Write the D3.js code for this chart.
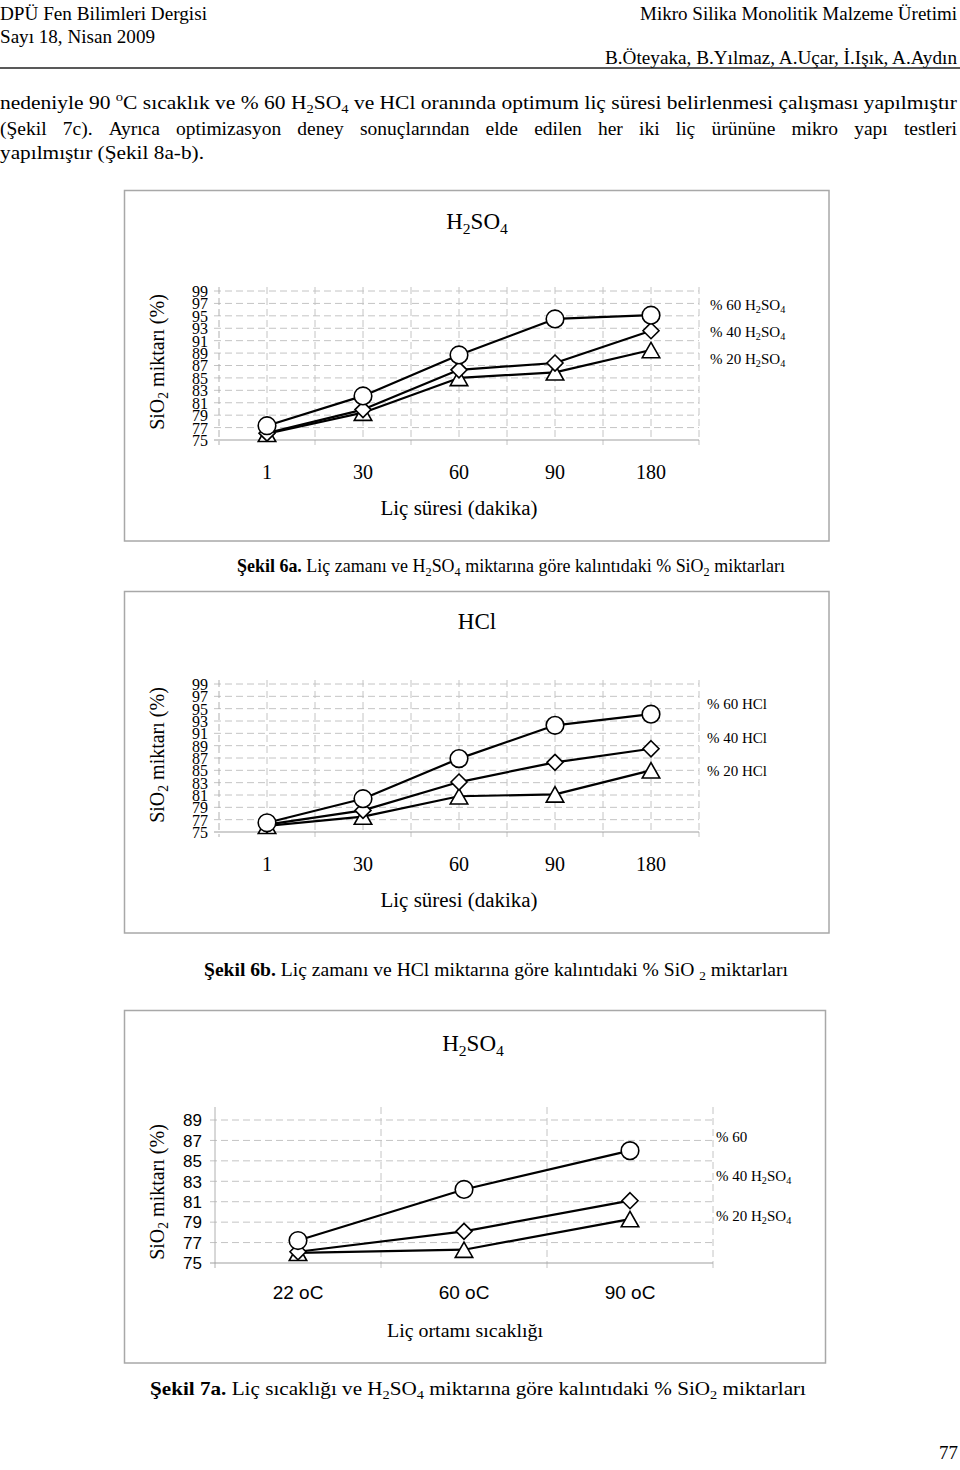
<!DOCTYPE html>
<html><head><meta charset="utf-8">
<script src="https://cdn.jsdelivr.net/npm/d3@7"></script>
<style>body{margin:0;background:#fff} svg{display:block}</style>
</head><body>
<script>
// ---------- data ----------
const timeCategories = ["1", "30", "60", "90", "180"];
const h2so4_60 = [77.3, 82.1, 88.7, 94.5, 95.1];
const h2so4_40 = [76.1, 79.9, 86.3, 87.4, 92.6];
const h2so4_20 = [76.0, 79.4, 85.0, 85.9, 89.5];
const hcl_60 = [76.5, 80.4, 86.9, 92.3, 94.1];
const hcl_40 = [76.2, 78.5, 83.1, 86.3, 88.5];
const hcl_20 = [76.0, 77.5, 80.8, 81.1, 85.0];
const tempCategories = ["22 oC", "60 oC", "90 oC"];
const temp_60 = [77.2, 82.2, 86.0];
const temp_40 = [76.1, 78.1, 81.1];
const temp_20 = [76.0, 76.3, 79.3];
const yTicksTime = [99, 97, 95, 93, 91, 89, 87, 85, 83, 81, 79, 77, 75];
const yTicksTemp = [89, 87, 85, 83, 81, 79, 77, 75];

// ---------- setup ----------
const W = 960, H = 1470;
const SERIF = "'Liberation Serif','Times New Roman',serif";
const SANS = "'Liberation Sans',Arial,sans-serif";
const svg = d3.select("body").append("svg").attr("width", W).attr("height", H);
svg.append("rect").attr("width", W).attr("height", H).attr("fill", "#fff");

function rich(parent, x, y, size, parts, o = {}) {
  const t = parent.append("text").attr("x", x).attr("y", y)
    .attr("font-family", o.family || SERIF).attr("font-size", size).attr("fill", "#000");
  if (o.anchor) t.attr("text-anchor", o.anchor);
  let shift = 0;
  parts.forEach(p => {
    let txt, fs = size, target = 0, weight = null;
    if (typeof p === "string") txt = p;
    else if (p.sub !== undefined) { txt = p.sub; fs = size * 0.68; target = size * 0.22; }
    else if (p.sup !== undefined) { txt = p.sup; fs = size * 0.68; target = -size * 0.4; }
    else if (p.b !== undefined) { txt = p.b; weight = "bold"; }
    const ts = t.append("tspan").text(txt).attr("font-size", fs);
    if (target - shift !== 0) ts.attr("dy", target - shift);
    shift = target;
    if (weight) ts.attr("font-weight", weight);
  });
  if (o.len) t.attr("textLength", o.len).attr("lengthAdjust", o.adjust || "spacingAndGlyphs");
  if (o.rotate) t.attr("transform", `rotate(${o.rotate},${x},${y})`);
  return t;
}

function justify(parent, x0, x1, y, size, str) {
  const words = str.split(" ");
  const nodes = words.map(w => parent.append("text").attr("y", y)
    .attr("font-family", SERIF).attr("font-size", size).attr("fill", "#000").text(w));
  const widths = nodes.map(n => n.node().getComputedTextLength());
  const gap = (x1 - x0 - d3.sum(widths)) / (words.length - 1);
  let x = x0;
  nodes.forEach((n, i) => { n.attr("x", x); x += widths[i] + gap; });
}

// ---------- page header & body text ----------
rich(svg, 0, 20, 18, ["DPÜ Fen Bilimleri Dergisi"], { len: 207 });
rich(svg, 0, 43, 18, ["Sayı 18, Nisan 2009"], { len: 155 });
rich(svg, 957, 20, 18, ["Mikro Silika Monolitik Malzeme Üretimi"], { anchor: "end", len: 317 });
rich(svg, 957, 64, 18, ["B.Öteyaka, B.Yılmaz, A.Uçar, İ.Işık, A.Aydın"], { anchor: "end", len: 352 });
svg.append("line").attr("x1", 0).attr("x2", 960).attr("y1", 68).attr("y2", 68)
  .attr("stroke", "#222").attr("stroke-width", 1.5);

rich(svg, 0, 109, 19.5, ["nedeniyle 90 ", { sup: "o" }, "C sıcaklık ve % 60  H", { sub: "2" }, "SO", { sub: "4" },
  " ve HCl oranında optimum liç süresi belirlenmesi çalışması yapılmıştır"], { len: 957 });
justify(svg, 0, 957, 135, 19.5, "(Şekil 7c). Ayrıca optimizasyon deney sonuçlarından elde edilen her iki liç ürününe mikro yapı testleri");
rich(svg, 0, 159, 19.5, ["yapılmıştır (Şekil 8a-b)."], { len: 204 });

// ---------- marker symbols ----------
const symDiamond = { draw(ctx, size) { const r = Math.sqrt(size) / 2; ctx.moveTo(0, -r); ctx.lineTo(r, 0); ctx.lineTo(0, r); ctx.lineTo(-r, 0); ctx.closePath(); } };
const symTriangle = { draw(ctx, size) { const w = Math.sqrt(size); const h = w * 0.88; ctx.moveTo(0, -h / 2); ctx.lineTo(w / 2, h / 2); ctx.lineTo(-w / 2, h / 2); ctx.closePath(); } };

// ---------- chart builder ----------
function chart(c) {
  const g = svg.append("g");
  g.append("rect").attr("x", c.box[0]).attr("y", c.box[1])
    .attr("width", c.box[2] - c.box[0]).attr("height", c.box[3] - c.box[1])
    .attr("fill", "none").attr("stroke", "#a8a8a8").attr("stroke-width", 1.5);

  const x = d3.scaleBand().domain(c.cats).range(c.xRange);
  const y = d3.scaleLinear().domain(c.yDomain).range(c.yRange);
  const top = c.plotTop;
  const bottom = y(c.yDomain[0]);

  const grid = g.append("g").attr("stroke", "#c4c4c4").attr("stroke-width", 1).attr("fill", "none");
  c.yTicks.forEach(t => {
    if (t === c.yDomain[0]) return;
    grid.append("line").attr("x1", c.xRange[0] - 5).attr("x2", c.xRange[1])
      .attr("y1", y(t)).attr("y2", y(t)).attr("stroke-dasharray", "7,4");
  });
  const bounds = c.cats.map(d => x(d)).concat([c.xRange[1]]);
  bounds.forEach((bx, i) => {
    if (i === 0) return;
    grid.append("line").attr("x1", bx).attr("x2", bx).attr("y1", top).attr("y2", bottom)
      .attr("stroke-dasharray", "7,4");
    grid.append("line").attr("x1", bx).attr("x2", bx).attr("y1", bottom).attr("y2", bottom + 5);
  });
  if (c.centerGrid) {
    c.cats.forEach(d => {
      const cx = x(d) + x.bandwidth() / 2;
      grid.append("line").attr("x1", cx).attr("x2", cx).attr("y1", top).attr("y2", bottom)
        .attr("stroke-dasharray", "7,4");
    });
  }
  g.append("line").attr("x1", c.xRange[0]).attr("x2", c.xRange[0]).attr("y1", top).attr("y2", bottom + 5)
    .attr("stroke", "#b0b0b0").attr("stroke-width", 1).attr("stroke-dasharray", c.yAxisDash || null);
  g.append("line").attr("x1", c.xRange[0] - 5).attr("x2", c.xRange[1]).attr("y1", bottom).attr("y2", bottom)
    .attr("stroke", "#a0a0a0").attr("stroke-width", 1.2);

  const yAxis = d3.axisLeft(y).tickValues(c.yTicks).tickSize(0).tickPadding(0);
  const ya = g.append("g").attr("transform", `translate(${c.yLabelRight},0)`).call(yAxis);
  ya.select(".domain").remove();
  ya.selectAll("text").attr("font-family", c.yTickFamily).attr("font-size", c.yTickSize)
    .attr("fill", "#000").attr("dy", "0.34em");

  const xAxis = d3.axisBottom(x).tickSize(0).tickPadding(0);
  const xa = g.append("g").attr("transform", `translate(0,${c.xLabelY})`).call(xAxis);
  xa.select(".domain").remove();
  xa.selectAll("text").attr("font-family", c.xTickFamily).attr("font-size", c.xTickSize)
    .attr("fill", "#000").attr("dy", 0);

  const line = d3.line().x((d, i) => x(c.cats[i]) + x.bandwidth() / 2).y(d => y(d));
  c.series.slice().reverse().forEach(s => {
    g.append("path").datum(s.values).attr("d", line).attr("fill", "none")
      .attr("stroke", "#000").attr("stroke-width", 2.2).attr("stroke-linejoin", "round");
    g.selectAll(null).data(s.values).enter().append("path")
      .attr("transform", (d, i) => `translate(${x(c.cats[i]) + x.bandwidth() / 2},${y(d)})`)
      .attr("d", d3.symbol(s.symbol, s.size))
      .attr("fill", "#fff").attr("stroke", "#000").attr("stroke-width", 1.6);
  });

  rich(g, c.titleX, c.titleY, 23, c.title, { anchor: "middle" });
  rich(g, c.xTitleX, c.xTitleY, c.xTitleSize, [c.xTitle], { anchor: "middle", len: c.xTitleLen });
  const yParts = ["SiO", { sub: "2" }, " miktarı (%)"];
  if (c.yClip) {
    const id = "clip" + Math.round(c.box[1]);
    g.append("clipPath").attr("id", id).append("rect")
      .attr("x", c.yClip[0]).attr("y", c.yClip[1]).attr("width", c.yClip[2]).attr("height", c.yClip[3]);
    const cg = g.append("g").attr("clip-path", `url(#${id})`);
    rich(cg, c.yTitleX, c.yTitleY, 20, yParts, { anchor: "middle", rotate: -90 });
  } else {
    rich(g, c.yTitleX, c.yTitleY, 20, yParts, { anchor: "middle", rotate: -90 });
  }
  c.legend.forEach((parts, i) => rich(g, c.legendX, c.legendY[i], c.legendSize, parts));
  rich(svg, c.capX, c.capY, 19, c.caption, { len: c.capLen });
}

const H2SO4 = ["H", { sub: "2" }, "SO", { sub: "4" }];
const circleSize = Math.PI * 8.8 * 8.8;
const diamondSize = 16 * 16;
const triangleSize = 17.5 * 17.5;

chart({
  box: [124.5, 190.5, 829, 541],
  cats: timeCategories, xRange: [219, 699],
  yDomain: [75, 99], yRange: [440, 291], yTicks: yTicksTime, plotTop: 287,
  centerGrid: true, yAxisDash: "7,4",
  yLabelRight: 208, yTickFamily: SERIF, yTickSize: 16,
  xLabelY: 479, xTickFamily: SERIF, xTickSize: 20,
  series: [
    { values: h2so4_60, symbol: d3.symbolCircle, size: circleSize },
    { values: h2so4_40, symbol: symDiamond, size: diamondSize },
    { values: h2so4_20, symbol: symTriangle, size: triangleSize }
  ],
  title: H2SO4, titleX: 477, titleY: 229,
  xTitle: "Liç süresi (dakika)", xTitleX: 459, xTitleY: 515, xTitleSize: 20, xTitleLen: 157,
  yTitleX: 164, yTitleY: 362,
  legend: [["% 60 ", ...H2SO4], ["% 40 ", ...H2SO4], ["% 20 ", ...H2SO4]],
  legendX: 710, legendY: [310, 337, 364], legendSize: 15,
  caption: [{ b: "Şekil 6a." }, " Liç zamanı ve H", { sub: "2" }, "SO", { sub: "4" }, " miktarına göre kalıntıdaki % SiO", { sub: "2" }, " miktarları"],
  capX: 237, capY: 572, capLen: 548
});

chart({
  box: [124.5, 591.5, 829, 933],
  cats: timeCategories, xRange: [219, 699],
  yDomain: [75, 99], yRange: [832, 684], yTicks: yTicksTime, plotTop: 680,
  centerGrid: true, yAxisDash: "7,4",
  yLabelRight: 208, yTickFamily: SERIF, yTickSize: 16,
  xLabelY: 871, xTickFamily: SERIF, xTickSize: 20,
  series: [
    { values: hcl_60, symbol: d3.symbolCircle, size: circleSize },
    { values: hcl_40, symbol: symDiamond, size: diamondSize },
    { values: hcl_20, symbol: symTriangle, size: triangleSize }
  ],
  title: ["HCl"], titleX: 477, titleY: 629,
  xTitle: "Liç süresi (dakika)", xTitleX: 459, xTitleY: 907, xTitleSize: 20, xTitleLen: 157,
  yTitleX: 164, yTitleY: 755,
  legend: [["% 60 HCl"], ["% 40 HCl"], ["% 20 HCl"]],
  legendX: 707, legendY: [709, 743, 776], legendSize: 15,
  caption: [{ b: "Şekil 6b." }, " Liç zamanı ve HCl miktarına göre kalıntıdaki % SiO ", { sub: "2" }, " miktarları"],
  capX: 204, capY: 976, capLen: 584
});

chart({
  box: [124.5, 1010.5, 825.5, 1363],
  cats: tempCategories, xRange: [215, 713],
  yDomain: [75, 89], yRange: [1263, 1120], yTicks: yTicksTemp, plotTop: 1107,
  centerGrid: false, yAxisDash: null,
  yLabelRight: 202, yTickFamily: SANS, yTickSize: 17,
  xLabelY: 1299, xTickFamily: SANS, xTickSize: 19,
  series: [
    { values: temp_60, symbol: d3.symbolCircle, size: circleSize },
    { values: temp_40, symbol: symDiamond, size: diamondSize },
    { values: temp_20, symbol: symTriangle, size: triangleSize }
  ],
  title: H2SO4, titleX: 473, titleY: 1051,
  xTitle: "Liç ortamı sıcaklığı", xTitleX: 465, xTitleY: 1337, xTitleSize: 18, xTitleLen: 156,
  yTitleX: 164, yTitleY: 1192, yClip: [140, 1112, 40, 170],
  legend: [["% 60"], ["% 40 ", ...H2SO4], ["% 20 ", ...H2SO4]],
  legendX: 716, legendY: [1142, 1181, 1221], legendSize: 15,
  caption: [{ b: "Şekil 7a." }, " Liç sıcaklığı ve H", { sub: "2" }, "SO", { sub: "4" }, " miktarına göre kalıntıdaki % SiO", { sub: "2" }, " miktarları"],
  capX: 150, capY: 1395, capLen: 656
});

rich(svg, 958, 1459, 19, ["77"], { anchor: "end" });
</script>
</body></html>
